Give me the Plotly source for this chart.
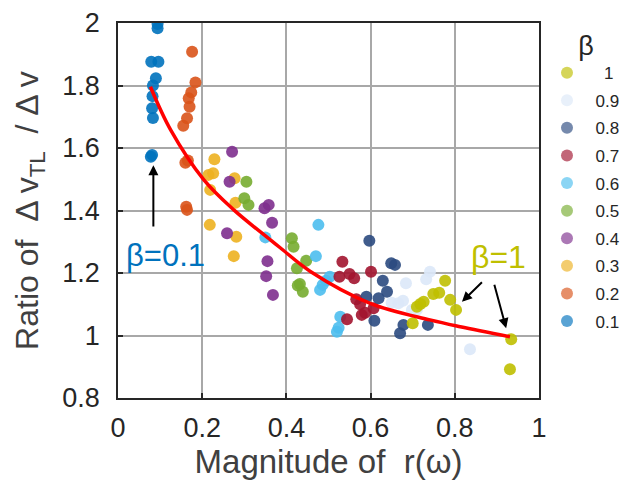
import plotly.graph_objects as go

# Measured points for each beta value: magnitude of r(omega) vs. ratio dv_TL / dv
x_b01 = [0.094, 0.094, 0.079, 0.096, 0.090, 0.083, 0.082, 0.081, 0.083, 0.081, 0.078]
y_b01 = [1.997, 1.983, 1.876, 1.876, 1.823, 1.800, 1.766, 1.727, 1.696, 1.578, 1.572]

x_b02 = [0.176, 0.184, 0.174, 0.168, 0.170, 0.164, 0.155, 0.160, 0.166, 0.162, 0.164]
y_b02 = [1.908, 1.810, 1.778, 1.759, 1.732, 1.695, 1.671, 1.553, 1.560, 1.412, 1.402]

x_b03 = [0.229, 0.215, 0.226, 0.219, 0.277, 0.279, 0.218, 0.281, 0.275]
y_b03 = [1.564, 1.514, 1.519, 1.466, 1.503, 1.425, 1.354, 1.316, 1.254]

x_b04 = [0.271, 0.265, 0.358, 0.348, 0.366, 0.259, 0.355, 0.352, 0.368]
y_b04 = [1.588, 1.492, 1.418, 1.407, 1.361, 1.327, 1.238, 1.190, 1.130]

x_b05 = [0.305, 0.300, 0.310, 0.413, 0.417, 0.447, 0.425, 0.432, 0.439, 0.427]
y_b05 = [1.492, 1.439, 1.418, 1.311, 1.284, 1.239, 1.215, 1.165, 1.140, 1.160]

x_b06 = [0.350, 0.476, 0.470, 0.503, 0.494, 0.486, 0.480, 0.528, 0.524, 0.520]
y_b06 = [1.314, 1.354, 1.254, 1.188, 1.175, 1.162, 1.146, 1.060, 1.025, 1.012]

x_b07 = [0.533, 0.526, 0.550, 0.561, 0.601, 0.566, 0.607, 0.579, 0.587, 0.544, 0.575]
y_b07 = [1.236, 1.188, 1.197, 1.183, 1.204, 1.116, 1.087, 1.066, 1.073, 1.052, 1.100]

x_b08 = [0.597, 0.649, 0.658, 0.629, 0.639, 0.590, 0.619, 0.609, 0.678, 0.670, 0.736]
y_b08 = [1.303, 1.231, 1.226, 1.175, 1.140, 1.124, 1.119, 1.047, 1.034, 1.007, 1.034]

x_b09 = [0.741, 0.732, 0.684, 0.650, 0.666, 0.677, 0.698, 0.710, 0.836]
y_b09 = [1.204, 1.180, 1.167, 1.105, 1.103, 1.111, 1.082, 1.082, 0.956]

x_b10 = [0.777, 0.749, 0.763, 0.726, 0.718, 0.710, 0.789, 0.803, 0.700, 0.934, 0.931]
y_b10 = [1.175, 1.133, 1.137, 1.108, 1.101, 1.092, 1.114, 1.082, 1.039, 0.988, 0.892]

# Fitted trend curve
fit_x = [0.077, 0.125, 0.204, 0.275, 0.362, 0.386, 0.457, 0.599, 0.741, 0.813, 0.931]
fit_y = [1.796, 1.658, 1.498, 1.402, 1.306, 1.280, 1.205, 1.103, 1.050, 1.028, 0.996]

beta_labels = ["0.1", "0.2", "0.3", "0.4", "0.5", "0.6", "0.7", "0.8", "0.9", "1"]
beta_colors = ["#0072BD", "#D95319", "#EDB120", "#7E2F8E", "#77AC30",
               "#4DBEEE", "#A2142F", "#2B4A80", "#DCE8F8", "#BFBF00"]

x_ticks = [0, 0.2, 0.4, 0.6, 0.8, 1]
x_tick_text = ["0", "0.2", "0.4", "0.6", "0.8", "1"]
y_ticks = [0.8, 1.0, 1.2, 1.4, 1.6, 1.8, 2.0]
y_tick_text = ["0.8", "1", "1.2", "1.4", "1.6", "1.8", "2"]

series_x = [x_b01, x_b02, x_b03, x_b04, x_b05, x_b06, x_b07, x_b08, x_b09, x_b10]
series_y = [y_b01, y_b02, y_b03, y_b04, y_b05, y_b06, y_b07, y_b08, y_b09, y_b10]

FONT = "Liberation Sans, Arial, sans-serif"
NB = "\u00a0"
EN = "\u2002"

fig = go.Figure()

for xs, ys, lab, col in zip(series_x, series_y, beta_labels, beta_colors):
    fig.add_trace(go.Scatter(
        x=xs, y=ys, mode="markers", name=lab, showlegend=False,
        marker=dict(size=12, color=col, opacity=0.9, line=dict(width=0)),
    ))

fig.add_trace(go.Scatter(
    x=fit_x, y=fit_y, mode="lines", showlegend=False,
    line=dict(color="#FF0000", width=3.5, shape="spline"),
))

# Legend entries (lighter swatches), listed from beta = 1 down to 0.1
for lab, col in reversed(list(zip(beta_labels, beta_colors))):
    shown = EN + lab if lab != "1" else EN + EN + lab
    fig.add_trace(go.Scatter(
        x=[None], y=[None], mode="markers", name=shown, legendgroup="b" + lab,
        marker=dict(size=12, color=col, opacity=0.65),
    ))

axis_common = dict(
    showgrid=True, gridcolor="#A8A8A8", gridwidth=1.5,
    showline=True, linecolor="#262626", linewidth=1.8, mirror=True,
    ticks="inside", ticklen=5, tickcolor="#262626", tickwidth=1.5,
    zeroline=False,
    tickfont=dict(family=FONT, size=27, color="#262626"),
)

fig.update_layout(
    width=621, height=487,
    margin=dict(l=118, r=82, t=23, b=89, autoexpand=False),
    paper_bgcolor="white", plot_bgcolor="white",
    font=dict(family=FONT, color="#262626"),
    xaxis=dict(
        range=[0, 1], tickvals=x_ticks, ticktext=x_tick_text,
        title=dict(text="Magnitude of" + NB + " r(\u03c9)", font=dict(family=FONT, size=33, color="#404040"), standoff=2),
        ticklabelstandoff=5,
        **axis_common,
    ),
    yaxis=dict(
        range=[0.8, 2], tickvals=y_ticks, ticktext=y_tick_text,
        title=dict(text="Ratio of" + NB + " \u0394 v<sub>TL</sub>" + NB + " / \u0394 v",
                   font=dict(family=FONT, size=32, color="#404040"), standoff=14),
        ticklabelstandoff=11,
        **axis_common,
    ),
    legend=dict(
        title=dict(text="\u03b2", font=dict(family=FONT, size=27, color="#262626"), side="top center"),
        traceorder="grouped", tracegroupgap=2.5,
        x=1.019, xanchor="left", y=1.008, yanchor="top",
        font=dict(family=FONT, size=17, color="#262626"),
        bgcolor="rgba(255,255,255,0)", borderwidth=0,
        itemwidth=30, maxheight=470,
    ),
    annotations=[
        dict(x=0.113, y=1.255, xref="x", yref="y", text="\u03b2=0.1", showarrow=False,
             font=dict(family=FONT, size=31, color="#0072BD")),
        dict(x=0.903, y=1.250, xref="x", yref="y", text="\u03b2=1", showarrow=False,
             font=dict(family=FONT, size=32, color="#BFBF00")),
        dict(x=0.084, y=1.545, ax=0.084, ay=1.344, xref="x", yref="y", axref="x", ayref="y",
             text="", showarrow=True, arrowhead=2, arrowsize=1, arrowwidth=2, arrowcolor="black"),
        dict(x=0.817, y=1.108, ax=0.868, ay=1.175, xref="x", yref="y", axref="x", ayref="y",
             text="", showarrow=True, arrowhead=2, arrowsize=1, arrowwidth=2, arrowcolor="black"),
        dict(x=0.922, y=1.023, ax=0.893, ay=1.167, xref="x", yref="y", axref="x", ayref="y",
             text="", showarrow=True, arrowhead=2, arrowsize=1, arrowwidth=2, arrowcolor="black"),
    ],
)

fig.write_html("out.html")
